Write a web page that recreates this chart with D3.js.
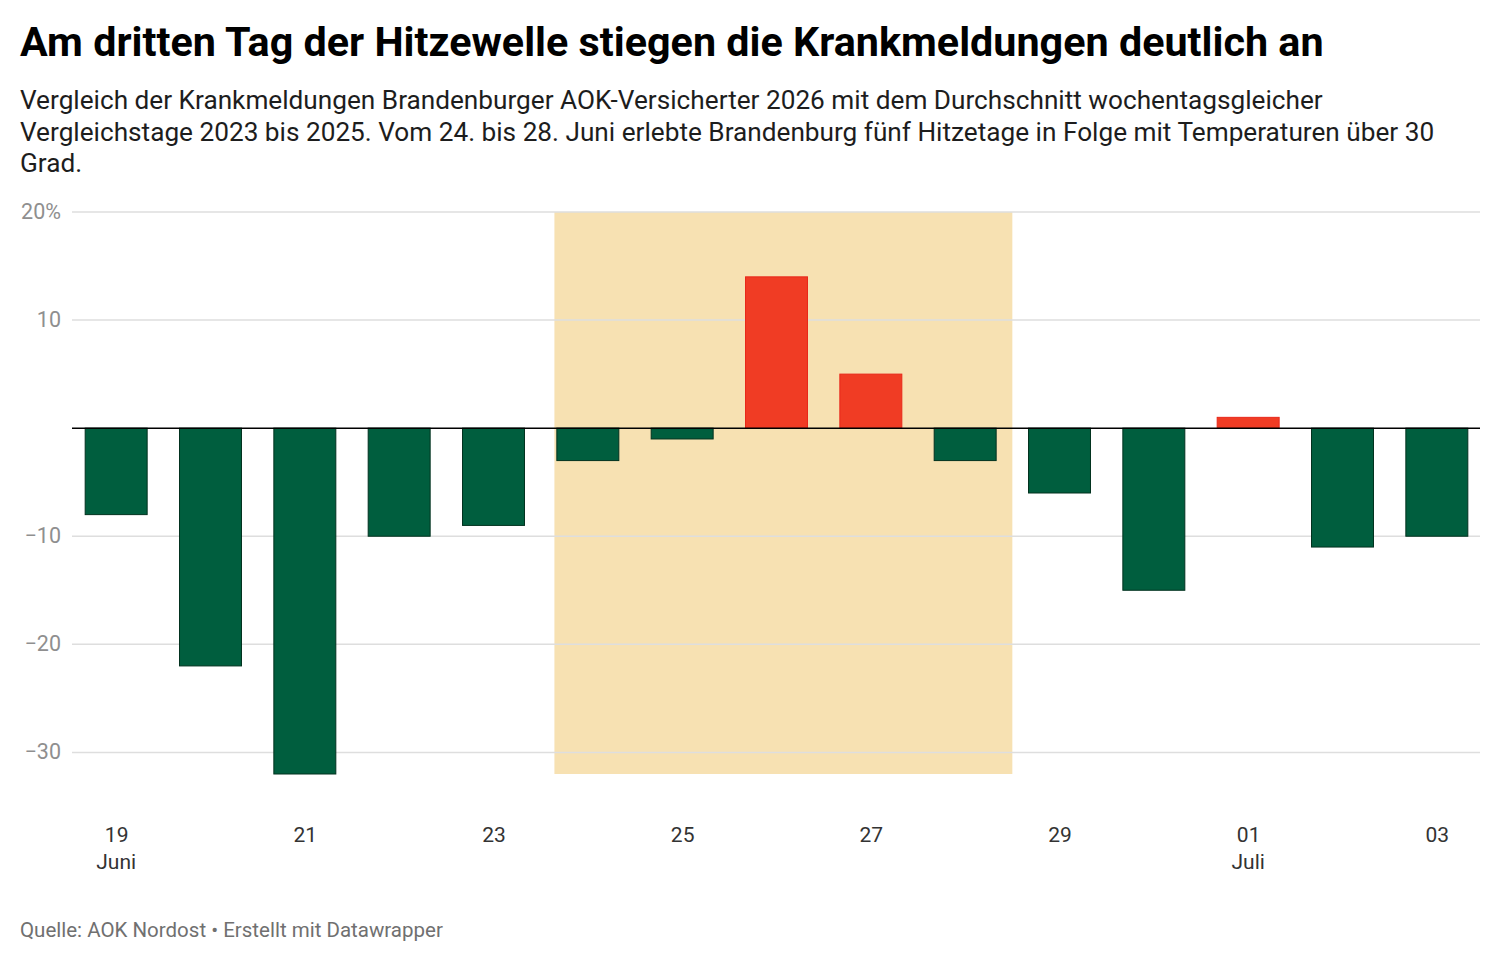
<!DOCTYPE html>
<html>
<head>
<meta charset="utf-8">
<script src="https://cdn.jsdelivr.net/npm/d3@7"></script>
<style>
  body { margin: 0; background: #fff; font-family: Roboto, sans-serif; }
  svg text { font-family: Roboto, sans-serif; }
</style>
</head>
<body>
<svg id="chart" width="1500" height="962"></svg>
<script>
// values: change in sick notes vs. average of comparable weekdays, in %
const days = ['2026-06-19', '2026-06-20', '2026-06-21', '2026-06-22', '2026-06-23',
  '2026-06-24', '2026-06-25', '2026-06-26', '2026-06-27', '2026-06-28',
  '2026-06-29', '2026-06-30', '2026-07-01', '2026-07-02', '2026-07-03']
const values = [-8, -22, -32, -10, -9, -3, -1, 14, 5, -3, -6, -15, 1, -11, -10]
const yTicks = [20, 10, 0, -10, -20, -30]
const xTickDays = ['2026-06-19', '2026-06-21', '2026-06-23', '2026-06-25', '2026-06-27',
  '2026-06-29', '2026-07-01', '2026-07-03']
const monthLabels = { '2026-06-19': 'Juni', '2026-07-01': 'Juli' }
// heat wave period (24.–28. Juni)
const heatRange = ['2026-06-23T15:30', '2026-06-28T12:00']

const title = 'Am dritten Tag der Hitzewelle stiegen die Krankmeldungen deutlich an'
const subtitle = [
  'Vergleich der Krankmeldungen Brandenburger AOK-Versicherter 2026 mit dem Durchschnitt wochentagsgleicher',
  'Vergleichstage 2023 bis 2025. Vom 24. bis 28. Juni erlebte Brandenburg fünf Hitzetage in Folge mit Temperaturen über 30',
  'Grad.'
]
const source = 'Quelle: AOK Nordost • Erstellt mit Datawrapper'

const svg = d3.select('#chart')
const parse = d3.timeParse('%Y-%m-%d')
const parseH = d3.timeParse('%Y-%m-%dT%H:%M')
const data = days.map((d, i) => ({ date: parse(d), value: values[i] }))

const plot = { left: 72, right: 1480, top: 212, bottom: 774 }

const y = d3.scaleLinear()
  .domain([-32, 20])
  .range([plot.bottom, plot.top])

const x = d3.scaleTime()
  .domain([d3.timeHour.offset(data[0].date, -12), d3.timeHour.offset(data[data.length - 1].date, 12)])
  .range([69, 1484])

const step = x(data[1].date) - x(data[0].date)
const barW = step * 0.657

// title block
svg.append('text')
  .attr('x', 20).attr('y', 56)
  .attr('font-size', 41.3).attr('font-weight', 700).attr('fill', '#000')
  .text(title)

svg.append('g').selectAll('text')
  .data(subtitle)
  .join('text')
  .attr('x', 20).attr('y', (d, i) => 109 + i * 31.5)
  .attr('font-size', 26.2).attr('fill', '#1d1d1d')
  .text(d => d)

// heat wave band
svg.append('rect')
  .attr('x', x(parseH(heatRange[0])))
  .attr('width', x(parseH(heatRange[1])) - x(parseH(heatRange[0])))
  .attr('y', y(20))
  .attr('height', y(-32) - y(20))
  .attr('fill', '#f7e1b2')

// y gridlines + labels
const grid = svg.append('g')
grid.selectAll('line')
  .data(yTicks.filter(d => d !== 0))
  .join('line')
  .attr('x1', plot.left).attr('x2', plot.right)
  .attr('y1', d => y(d)).attr('y2', d => y(d))
  .attr('stroke', '#dedede').attr('stroke-width', 1.5)

grid.selectAll('text')
  .data(yTicks.filter(d => d !== 0))
  .join('text')
  .attr('x', 61).attr('y', d => y(d) + 7)
  .attr('text-anchor', 'end')
  .attr('font-size', 21.5).attr('fill', '#8f8f8f')
  .text(d => d === 20 ? '20%' : d < 0 ? '\u2212' + Math.abs(d) : d)

// bars
svg.append('g').selectAll('rect')
  .data(data)
  .join('rect')
  .attr('x', d => x(d.date) - barW / 2)
  .attr('width', barW)
  .attr('y', d => y(Math.max(0, d.value)))
  .attr('height', d => Math.abs(y(d.value) - y(0)))
  .attr('fill', d => d.value >= 0 ? '#f03c24' : '#005e3e')
  .attr('stroke', d => d.value >= 0 ? '#e8281a' : '#02321f')
  .attr('stroke-width', 1)

// zero line
svg.append('line')
  .attr('x1', plot.left).attr('x2', plot.right)
  .attr('y1', y(0)).attr('y2', y(0))
  .attr('stroke', '#000').attr('stroke-width', 1.5)

// x axis labels
const xAxis = d3.axisBottom(x)
  .tickValues(xTickDays.map(parse))
  .tickFormat(d3.timeFormat('%d'))
  .tickSize(0)

const xg = svg.append('g')
  .attr('transform', `translate(0, ${plot.bottom + 50})`)
  .call(xAxis)
xg.select('.domain').remove()
xg.selectAll('text')
  .attr('font-size', 21).attr('fill', '#333')
  .attr('font-family', 'Roboto, sans-serif')

svg.append('g').selectAll('text')
  .data(Object.keys(monthLabels))
  .join('text')
  .attr('x', d => x(parse(d)))
  .attr('y', 869)
  .attr('text-anchor', 'middle')
  .attr('font-size', 21).attr('fill', '#333')
  .text(d => monthLabels[d])

// footer
svg.append('text')
  .attr('x', 20).attr('y', 937)
  .attr('font-size', 20.5).attr('fill', '#707070')
  .text(source)
</script>
</body>
</html>
